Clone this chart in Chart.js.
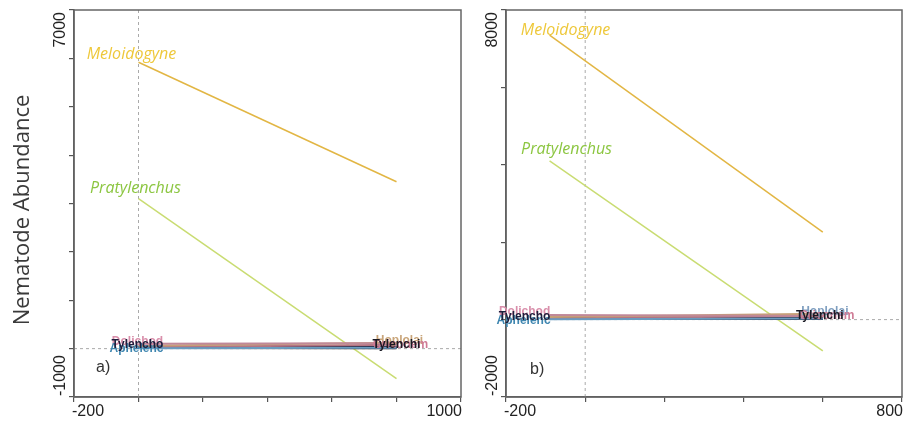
<!DOCTYPE html>
<html>
<head>
<meta charset="utf-8">
<script src="https://cdn.jsdelivr.net/npm/chart.js@4.4.1/dist/chart.umd.min.js"></script>
<style>
  html, body { margin: 0; padding: 0; background: #fff; }
  #wrap { position: relative; width: 903px; height: 422px; }
  canvas { position: absolute; top: 0; }
</style>
</head>
<body>
<div id="wrap">
  <canvas id="chartA" width="470" height="422" style="left:0"></canvas>
  <canvas id="chartB" width="433" height="422" style="left:470px"></canvas>
</div>
<script>
// time axis (start / end of each response line)
const timeA = [0, 800];
const timeB = [-90, 600];

// panel a) abundances
const meloA = [5920, 3450];
const pratA = [3100, -620];
const doliA = [100, 110];
const tyloA = [40, 30];
const apheA = [10, 20];
const hoplA = [60, 120];
const criA  = [30, 80];
const tyliA = [20, 15];

// panel b) abundances
const meloB = [7350, 2260];
const pratB = [4100, -810];
const doliB = [120, 90];
const tyloB = [60, 30];
const apheB = [10, 30];
const hoplB = [70, 150];
const criB  = [30, 100];
const tyliB = [30, 20];

// axis ranges and end labels
const xRangeA = [-200, 1000];
const yRangeA = [-1000, 7000];
const xRangeB = [-200, 800];
const yRangeB = [-2000, 8000];

const tickFont = "16px 'Liberation Sans', Arial, sans-serif";
const taxonFont = "italic 16px 'Open Sans', sans-serif";
const smallFont = "bold 12px 'Liberation Sans', Arial, sans-serif";

function series(label, xs, ys, color, width, tag) {
  return {
    label: label,
    data: xs.map((x, i) => ({ x: x, y: ys[i] })),
    borderColor: color,
    backgroundColor: color,
    borderWidth: width,
    pointRadius: 0,
    showLine: true,
    tag: tag
  };
}

const annot = {
  id: 'annot',
  beforeDatasetsDraw(chart) {
    const { ctx, chartArea: a, scales: { x, y } } = chart;
    ctx.save();
    ctx.strokeStyle = '#aaa';
    ctx.lineWidth = 1;
    ctx.setLineDash([3, 3]);
    const x0 = x.getPixelForValue(0), y0 = y.getPixelForValue(0);
    ctx.beginPath();
    ctx.moveTo(x0, a.top); ctx.lineTo(x0, a.bottom);
    ctx.moveTo(a.left, y0); ctx.lineTo(a.right, y0);
    ctx.stroke();
    ctx.restore();
  },
  afterDatasetsDraw(chart, args, opts) {
    const { ctx, chartArea: a, scales: { x, y } } = chart;
    ctx.save();
    // frame
    ctx.strokeStyle = '#666';
    ctx.lineWidth = 1.5;
    ctx.strokeRect(a.left, a.top, a.right - a.left, a.bottom - a.top);

    // taxon labels
    chart.data.datasets.forEach(ds => {
      const t = ds.tag;
      if (!t) return;
      const p = t.at === 'end' ? ds.data[ds.data.length - 1] : ds.data[0];
      ctx.font = t.font;
      ctx.fillStyle = t.color;
      ctx.textAlign = 'center';
      ctx.textBaseline = 'middle';
      ctx.fillText(ds.label, x.getPixelForValue(p.x) + t.dx, y.getPixelForValue(p.y) + t.dy);
    });

    // end tick labels
    ctx.fillStyle = '#222';
    ctx.font = tickFont;
    ctx.textBaseline = 'middle';
    ctx.textAlign = 'left';
    ctx.fillText(String(x.min), x.getPixelForValue(x.min) - 2, a.bottom + 15);
    ctx.textAlign = 'right';
    ctx.fillText(String(x.max), x.getPixelForValue(x.max) + 1, a.bottom + 15);
    ctx.save();
    ctx.translate(a.left - 13, 0);
    ctx.rotate(-Math.PI / 2);
    ctx.textAlign = 'right';
    ctx.fillText(String(y.max), -(y.getPixelForValue(y.max) + 2), 0);
    ctx.textAlign = 'left';
    ctx.fillText(String(y.min), -(y.getPixelForValue(y.min) - 1), 0);
    ctx.restore();

    // panel tag
    ctx.font = tickFont;
    ctx.fillStyle = '#333';
    ctx.textAlign = 'left';
    ctx.fillText(opts.panel, opts.panelX, opts.panelY);

    // y title
    if (opts.yTitle) {
      ctx.save();
      ctx.translate(23, 210);
      ctx.rotate(-Math.PI / 2);
      ctx.font = "22px 'Open Sans', sans-serif";
      ctx.fillStyle = '#3a3a3a';
      ctx.textAlign = 'center';
      ctx.fillText(opts.yTitle, 0, 0);
      ctx.restore();
    }
    ctx.restore();
  }
};

function axis(range, step, width, height) {
  return {
    type: 'linear',
    min: range[0],
    max: range[1],
    ticks: { display: false, stepSize: step },
    grid: { display: true, drawOnChartArea: false, drawTicks: true, tickLength: 5, color: '#555', lineWidth: 1.2 },
    border: { display: true, color: '#555', width: 1.5 },
    afterFit: s => { if (width) s.width = width; if (height) s.height = height; }
  };
}

function makeChart(id, datasets, xr, yr, xStep, yStep, pad, extra) {
  return new Chart(document.getElementById(id), {
    type: 'scatter',
    data: { datasets: datasets },
    options: {
      responsive: false,
      animation: false,
      layout: { autoPadding: false, padding: pad },
      plugins: { legend: { display: false }, tooltip: { enabled: false }, annot: extra },
      scales: {
        x: axis(xr, xStep, 0, 25),
        y: axis(yr, yStep, 20, 0)
      }
    },
    plugins: [annot]
  });
}

const gold = '#e2b644', green = '#c9dc72';

const dsA = [
  series('Dolichod', timeA, doliA, '#c08898', 2, { at: 'start', dx: -1, dy: -2, color: '#d98fab', font: smallFont }),
  series('Aphelenc', timeA, apheA, '#6a9cc0', 2, { at: 'start', dx: -2, dy: 1, color: '#3f86b0', font: smallFont }),
  series('Hoplolai', timeA, hoplA, '#c6a078', 2, { at: 'end', dx: 3, dy: -2, color: '#c9a57a', font: smallFont }),
  series('Criconem', timeA, criA, '#b47484', 2, { at: 'end', dx: 4, dy: 0, color: '#cf7b95', font: smallFont }),
  series('Tylencho', timeA, tyloA, '#22223a', 2.5, { at: 'start', dx: -1, dy: -2, color: '#1e1e3c', font: smallFont }),
  series('Tylenchi', timeA, tyliA, '#111118', 2.5, { at: 'end', dx: 0, dy: -3, color: '#1a1a24', font: smallFont }),
  series('Meloidogyne', timeA, meloA, gold, 1.5, { at: 'start', dx: -7, dy: -8, color: '#eec83a', font: taxonFont }),
  series('Pratylenchus', timeA, pratA, green, 1.5, { at: 'start', dx: -3, dy: -10, color: '#8cc641', font: taxonFont })
];

const dsB = [
  series('Dolichod', timeB, doliB, '#c08898', 2, { at: 'start', dx: -25, dy: -3, color: '#d98fab', font: smallFont }),
  series('Aphelenc', timeB, apheB, '#6a9cc0', 2, { at: 'start', dx: -26, dy: 1, color: '#3f86b0', font: smallFont }),
  series('Hoplolai', timeB, hoplB, '#c6a078', 2, { at: 'end', dx: 2, dy: -2, color: '#7f9fc0', font: smallFont }),
  series('Criconem', timeB, criB, '#b47484', 2, { at: 'end', dx: 4, dy: 0, color: '#cf7b95', font: smallFont }),
  series('Tylencho', timeB, tyloB, '#22223a', 2.5, { at: 'start', dx: -25, dy: -1, color: '#1e1e3c', font: smallFont }),
  series('Tylenchi', timeB, tyliB, '#111118', 2.5, { at: 'end', dx: -3, dy: -3, color: '#1a1a24', font: smallFont }),
  series('Meloidogyne', timeB, meloB, gold, 1.5, { at: 'start', dx: 16, dy: -5, color: '#eec83a', font: taxonFont }),
  series('Pratylenchus', timeB, pratB, green, 1.5, { at: 'start', dx: 17, dy: -11, color: '#8cc641', font: taxonFont })
];

makeChart('chartA', dsA, xRangeA, yRangeA, 200, 1000,
  { left: 54, right: 9, top: 10, bottom: 0 },
  { panel: 'a)', panelX: 96, panelY: 368, yTitle: 'Nematode Abundance' });

makeChart('chartB', dsB, xRangeB, yRangeB, 200, 2000,
  { left: 16, right: 1, top: 10, bottom: 0 },
  { panel: 'b)', panelX: 60, panelY: 370 });
</script>
</body>
</html>
